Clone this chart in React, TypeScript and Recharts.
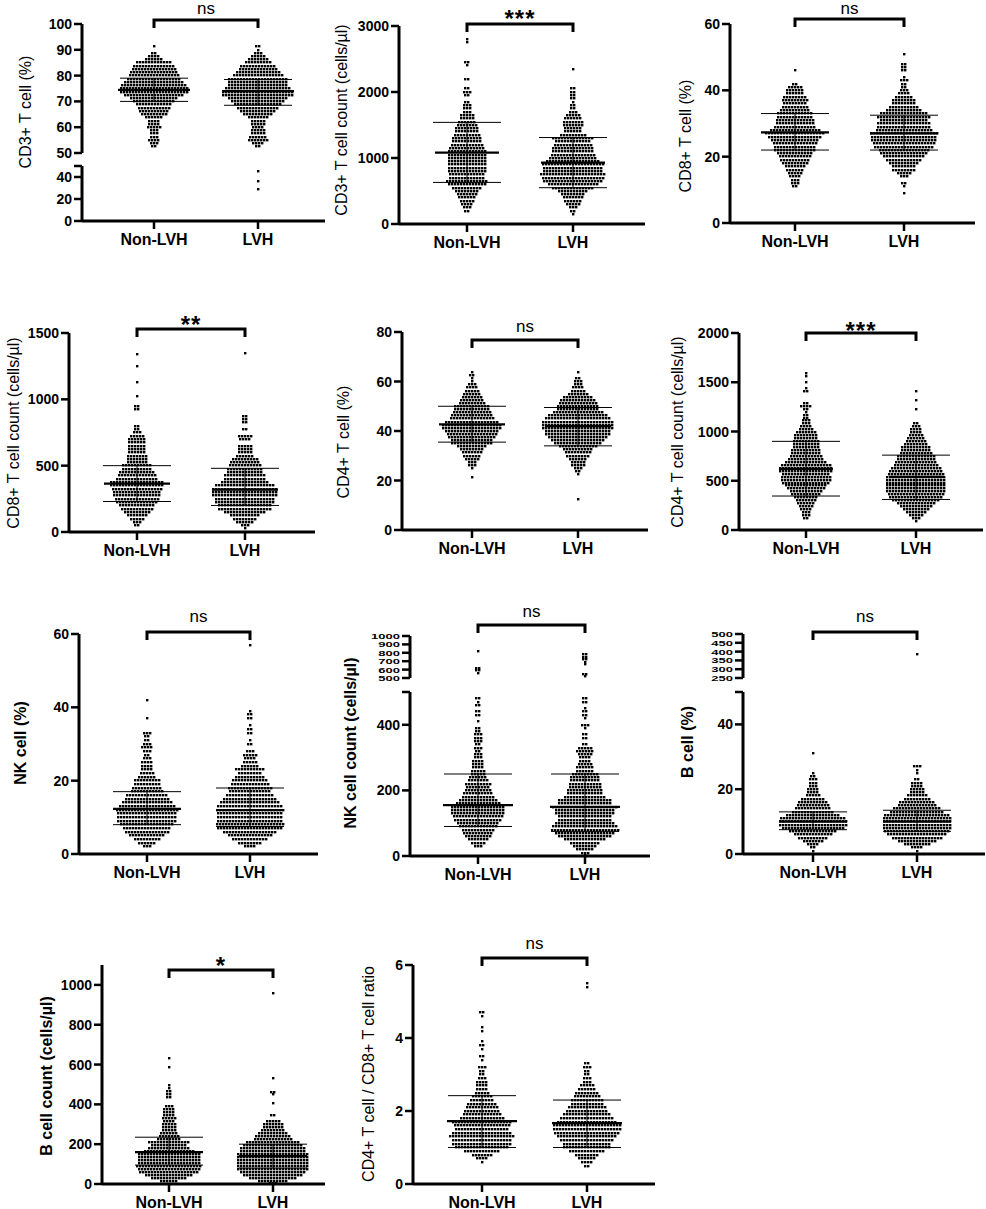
import React from 'react';
import { ScatterChart, Scatter, XAxis, YAxis, ReferenceLine, ErrorBar } from 'recharts';

// each row is [value, number of dots drawn side by side at that value]
type Row = [number, number];

const groups = ['Non-LVH', 'LVH'];

// CD3+ T cell (%)
const cd3PctNon: Row[] = [[91.25,1],[88.75,2],[87.5,4],[86.25,6],[85,12],[83.75,14],[82.5,15],[81.25,16],[80,17],[78.75,18],[77.5,20],[76.25,22],[75,23],[73.75,23],[72.5,20],[71.25,16],[70,14],[68.75,12],[67.5,11],[66.25,10],[65,9],[63.75,6],[62.5,4],[61.25,4],[60,5],[58.75,3],[57.5,3],[56.25,3],[55,4],[53.75,3],[52.5,2]];
const cd3PctLvh: Row[] = [[91.25,2],[90,1],[88.75,3],[87.5,5],[86.25,7],[85,9],[83.75,12],[82.5,13],[81.25,15],[80,17],[78.75,20],[77.5,20],[76.25,20],[75,22],[73.75,24],[72.5,24],[71.25,20],[70,18],[68.75,16],[67.5,14],[66.25,12],[65,10],[63.75,7],[62.5,5],[61.25,5],[60,4],[58.75,5],[57.5,5],[56.25,6],[55,7],[53.75,4],[52.5,2],[45,1],[36,1],[29,1]];
const cd3PctMedian = [74.5, 74];
const cd3PctQ1 = [70, 68.5];
const cd3PctQ3 = [79, 78.5];

// CD3+ T cell count
const cd3CntNon: Row[] = [[2800,1],[2750,1],[2450,2],[2400,1],[2200,2],[2050,2],[2000,3],[1950,2],[1850,2],[1800,3],[1750,3],[1700,3],[1650,5],[1600,5],[1550,6],[1500,7],[1450,8],[1400,8],[1350,9],[1300,10],[1250,10],[1200,11],[1150,12],[1100,13],[1050,13],[1000,13],[950,13],[900,13],[850,13],[800,13],[750,12],[700,12],[650,14],[600,13],[550,10],[500,8],[450,7],[400,6],[350,5],[300,4],[250,3],[200,2]];
const cd3CntLvh: Row[] = [[2350,1],[2050,2],[2000,2],[1950,2],[1900,2],[1850,1],[1800,2],[1750,2],[1700,3],[1650,5],[1600,6],[1550,7],[1500,7],[1450,6],[1400,6],[1350,9],[1300,14],[1250,12],[1200,13],[1150,14],[1100,14],[1050,15],[1000,16],[950,18],[900,21],[850,20],[800,20],[750,22],[700,21],[650,20],[600,17],[550,14],[500,10],[450,8],[400,7],[350,6],[300,5],[250,3],[200,2],[150,1]];
const cd3CntMedian = [1080, 930];
const cd3CntQ1 = [630, 550];
const cd3CntQ3 = [1540, 1310];

// CD8+ T cell (%)
const cd8PctNon: Row[] = [[46,1],[42,2],[41,5],[40,6],[39,6],[38,8],[37,9],[36,8],[35,9],[34,10],[33,12],[32,12],[31,13],[30,13],[29,14],[28,17],[27,20],[26,18],[25,16],[24,15],[23,14],[22,14],[21,12],[20,11],[19,10],[18,9],[17,7],[16,6],[15,5],[14,4],[13,3],[12,3],[11,2]];
const cd8PctLvh: Row[] = [[51,1],[48,2],[47,2],[46,2],[44,1],[43,3],[42,2],[41,2],[40,3],[39,4],[38,6],[37,8],[36,8],[35,10],[34,12],[33,16],[32,18],[31,16],[30,18],[29,18],[28,19],[27,23],[26,22],[25,22],[24,21],[23,20],[22,17],[21,16],[20,14],[19,12],[18,10],[17,8],[16,8],[15,5],[14,3],[12,2],[11,1],[9,1]];
const cd8PctMedian = [27.3, 27];
const cd8PctQ1 = [22, 22];
const cd8PctQ3 = [33, 32.5];

// CD8+ T cell count
const cd8CntNon: Row[] = [[1340,1],[1250,1],[1130,1],[1025,1],[950,2],[925,2],[800,2],[775,2],[750,3],[725,5],[700,6],[675,6],[650,6],[625,6],[600,6],[575,7],[550,7],[525,7],[500,10],[475,10],[450,12],[425,13],[400,14],[375,18],[350,18],[325,17],[300,16],[275,16],[250,15],[225,14],[200,12],[175,11],[150,9],[125,7],[100,5],[75,3],[50,2]];
const cd8CntLvh: Row[] = [[1350,1],[875,2],[850,2],[825,2],[775,2],[725,5],[700,4],[650,5],[625,5],[600,5],[575,6],[550,9],[525,10],[500,11],[475,12],[450,12],[425,14],[400,14],[375,16],[350,20],[325,22],[300,22],[275,22],[250,20],[225,20],[200,18],[175,18],[150,14],[125,10],[100,8],[75,6],[50,3],[25,1]];
const cd8CntMedian = [365, 320];
const cd8CntQ1 = [230, 200];
const cd8CntQ3 = [500, 480];

// CD4+ T cell (%)
const cd4PctNon: Row[] = [[63.75,1],[62.5,2],[61.25,1],[60,1],[58.75,3],[57.5,4],[56.25,5],[55,6],[53.75,7],[52.5,8],[51.25,9],[50,12],[48.75,12],[47.5,13],[46.25,14],[45,15],[43.75,18],[42.5,20],[41.25,20],[40,18],[38.75,17],[37.5,16],[36.25,14],[35,14],[33.75,10],[32.5,8],[31.25,7],[30,6],[28.75,5],[27.5,3],[26.25,3],[25,1],[21.25,1]];
const cd4PctLvh: Row[] = [[63.75,1],[61.25,2],[60,3],[58.75,3],[57.5,4],[56.25,5],[55,7],[53.75,10],[52.5,12],[51.25,13],[50,14],[48.75,14],[47.5,17],[46.25,20],[45,22],[43.75,24],[42.5,24],[41.25,24],[40,22],[38.75,22],[37.5,20],[36.25,18],[35,16],[33.75,13],[32.5,10],[31.25,9],[30,8],[28.75,6],[27.5,5],[26.25,5],[25,3],[23.75,2],[22.5,1],[12.5,1]];
const cd4PctMedian = [42.7, 42];
const cd4PctQ1 = [35.5, 34];
const cd4PctQ3 = [50, 49.5];

// CD4+ T cell count
const cd4CntNon: Row[] = [[1590,1],[1560,1],[1500,1],[1440,1],[1410,2],[1290,2],[1260,4],[1230,2],[1200,1],[1170,2],[1140,2],[1110,3],[1080,3],[1050,4],[1020,5],[990,7],[960,8],[930,8],[900,9],[870,9],[840,9],[810,10],[780,10],[750,11],[720,12],[690,14],[660,17],[630,18],[600,18],[570,16],[540,17],[510,17],[480,16],[450,14],[420,13],[390,11],[360,10],[330,8],[300,7],[270,6],[240,5],[210,4],[180,3],[150,3],[120,2]];
const cd4CntLvh: Row[] = [[1410,1],[1320,1],[1230,1],[1080,2],[1050,3],[1020,4],[990,4],[960,5],[930,6],[900,7],[870,8],[840,10],[810,10],[780,11],[750,13],[720,13],[690,14],[660,15],[630,17],[600,18],[570,19],[540,20],[510,20],[480,20],[450,20],[420,20],[390,20],[360,19],[330,18],[300,16],[270,13],[240,11],[210,9],[180,7],[150,5],[120,3],[90,1]];
const cd4CntMedian = [620, 540];
const cd4CntQ1 = [345, 310];
const cd4CntQ3 = [900, 760];

// NK cell (%)
const nkPctNon: Row[] = [[42,1],[37,1],[33,3],[32,2],[31,2],[30,3],[29,4],[28,3],[27,2],[26,3],[25,4],[24,4],[23,4],[22,5],[21,6],[20,9],[19,9],[18,10],[17,11],[16,14],[15,15],[14,17],[13,19],[12,21],[11,20],[10,20],[9,20],[8,18],[7,16],[6,15],[5,12],[4,9],[3,6],[2,3]];
const nkPctLvh: Row[] = [[57,1],[39,1],[38,2],[37,2],[35,1],[34,2],[33,2],[31,1],[30,2],[28,3],[27,5],[26,4],[25,5],[24,6],[23,10],[22,8],[21,10],[20,12],[19,13],[18,15],[17,14],[16,16],[15,18],[14,20],[13,22],[12,23],[11,22],[10,22],[9,22],[8,23],[7,22],[6,18],[5,15],[4,12],[3,8],[2,4]];
const nkPctMedian = [12.3, 12];
const nkPctQ1 = [8, 7.5];
const nkPctQ3 = [17, 18];

// NK cell count
const nkCntNon: Row[] = [[820,1],[620,2],[590,2],[560,1],[480,2],[470,1],[460,2],[440,2],[430,2],[410,1],[390,2],[380,2],[370,3],[360,3],[350,3],[340,2],[330,3],[320,2],[310,3],[300,3],[290,4],[280,4],[270,4],[260,5],[250,5],[240,6],[230,7],[220,9],[210,8],[200,9],[190,10],[180,11],[170,13],[160,15],[150,18],[140,18],[130,18],[120,17],[110,16],[100,14],[90,13],[80,11],[70,10],[60,9],[50,7],[40,5],[30,3]];
const nkCntLvh: Row[] = [[780,2],[750,2],[720,2],[690,1],[660,1],[550,2],[520,1],[480,2],[470,2],[450,1],[440,2],[430,2],[420,1],[400,3],[390,1],[370,2],[360,2],[340,2],[330,5],[320,6],[310,5],[300,4],[290,4],[280,5],[270,6],[260,6],[250,9],[240,10],[230,10],[220,11],[210,11],[200,12],[190,12],[180,14],[170,18],[160,18],[150,22],[140,20],[130,20],[120,18],[110,18],[100,20],[90,22],[80,23],[70,20],[60,18],[50,14],[40,10],[30,8],[20,6],[10,3],[2,1]];
const nkCntMedian = [155, 150];
const nkCntQ1 = [90, 75];
const nkCntQ3 = [250, 250];

// B cell (%)
const bPctNon: Row[] = [[31,1],[25,1],[24,2],[23,3],[22,3],[21,3],[20,4],[19,4],[18,5],[17,8],[16,10],[15,11],[14,12],[13,14],[12,18],[11,22],[10,23],[9,23],[8,21],[7,16],[6,13],[5,10],[4,7],[3,4],[2,2],[1,1]];
const bPctLvh: Row[] = [[385,1],[27,3],[26,1],[25,1],[23,2],[22,4],[21,4],[20,5],[19,5],[18,7],[17,9],[16,12],[15,13],[14,16],[13,18],[12,22],[11,23],[10,23],[9,23],[8,23],[7,22],[6,20],[5,17],[4,13],[3,9],[2,4],[1,1]];
const bPctMedian = [10, 10];
const bPctQ1 = [7.5, 7];
const bPctQ3 = [13, 13.5];

// B cell count
const bCntNon: Row[] = [[630,1],[585,1],[495,1],[480,1],[465,2],[450,2],[435,2],[390,3],[375,4],[360,4],[345,4],[330,5],[315,4],[300,5],[285,5],[270,5],[255,6],[240,7],[225,8],[210,14],[195,12],[180,14],[165,17],[150,21],[135,21],[120,21],[105,21],[90,22],[75,21],[60,20],[45,16],[30,12],[15,6]];
const bCntLvh: Row[] = [[960,1],[530,1],[460,2],[450,1],[405,1],[345,2],[315,5],[300,7],[285,7],[270,8],[255,10],[240,12],[225,13],[210,18],[195,20],[180,22],[165,22],[150,24],[135,24],[120,24],[105,24],[90,24],[75,24],[60,22],[45,20],[30,16],[15,10],[3,3]];
const bCntMedian = [160, 140];
const bCntQ1 = [95, 80];
const bCntQ3 = [235, 200];

// CD4+/CD8+ ratio
const ratioNon: Row[] = [[4.7,2],[4.6,1],[4.3,1],[4.2,1],[3.9,1],[3.8,2],[3.7,1],[3.5,2],[3.4,1],[3.2,3],[3.1,2],[3.0,2],[2.9,3],[2.8,4],[2.7,4],[2.6,4],[2.5,5],[2.4,7],[2.3,8],[2.2,10],[2.1,11],[2.0,12],[1.9,13],[1.8,15],[1.7,20],[1.6,19],[1.5,18],[1.4,20],[1.3,22],[1.2,20],[1.1,20],[1.0,18],[0.9,12],[0.8,7],[0.7,4],[0.6,1]];
const ratioLvh: Row[] = [[5.5,1],[5.4,1],[3.3,2],[3.2,3],[3.1,2],[3.0,2],[2.9,3],[2.8,3],[2.7,5],[2.6,6],[2.5,8],[2.4,9],[2.3,11],[2.2,11],[2.1,13],[2.0,14],[1.9,16],[1.8,18],[1.7,20],[1.6,23],[1.5,23],[1.4,22],[1.3,20],[1.2,18],[1.1,16],[1.0,16],[0.9,12],[0.8,8],[0.7,6],[0.6,4],[0.5,2]];
const ratioMedian = [1.72, 1.67];
const ratioQ1 = [1.0, 1.0];
const ratioQ3 = [2.42, 2.3];

const FONT = 'Arial, "Liberation Sans", Helvetica, sans-serif';
const DOT_PITCH = 3;
const DOT = 2.4;

interface Seg { lo: number; hi: number; yBottom: number; yTop: number; ticks: number[]; blankTop?: boolean; small?: boolean }

interface Panel {
  label: string; bold: boolean; sig: string;
  non: Row[]; lvh: Row[]; median: number[]; q1: number[]; q3: number[];
  left: number; top: number; axisX: number; xEnd: number; xAxisY: number; cats: number[];
  segs: Seg[]; bracketY: number; sigY: number; labelX: number; labelY: number; medW: number;
}

const panels: Panel[] = [
  { label: 'CD3+ T cell (%)', bold: false, sig: 'ns', non: cd3PctNon, lvh: cd3PctLvh, median: cd3PctMedian, q1: cd3PctQ1, q3: cd3PctQ3,
    left: 0, top: 0, axisX: 82, xEnd: 325, xAxisY: 221, cats: [154, 258],
    segs: [{ lo: 0, hi: 50, yBottom: 221, yTop: 166, ticks: [0, 20, 40], blankTop: true }, { lo: 50, hi: 100, yBottom: 153, yTop: 24, ticks: [50, 60, 70, 80, 90, 100] }],
    bracketY: 20, sigY: 10, labelX: 25, labelY: 112, medW: 72 },
  { label: 'CD3+ T cell count (cells/µl)', bold: false, sig: '***', non: cd3CntNon, lvh: cd3CntLvh, median: cd3CntMedian, q1: cd3CntQ1, q3: cd3CntQ3,
    left: 330, top: 0, axisX: 399, xEnd: 645, xAxisY: 224, cats: [467, 573],
    segs: [{ lo: 0, hi: 3000, yBottom: 224, yTop: 26, ticks: [0, 1000, 2000, 3000] }],
    bracketY: 24, sigY: 13, labelX: 341, labelY: 120, medW: 64 },
  { label: 'CD8+ T cell (%)', bold: false, sig: 'ns', non: cd8PctNon, lvh: cd8PctLvh, median: cd8PctMedian, q1: cd8PctQ1, q3: cd8PctQ3,
    left: 660, top: 0, axisX: 730, xEnd: 975, xAxisY: 223, cats: [795, 904],
    segs: [{ lo: 0, hi: 60, yBottom: 223, yTop: 24, ticks: [0, 20, 40, 60] }],
    bracketY: 19, sigY: 10, labelX: 685, labelY: 136, medW: 68 },
  { label: 'CD8+ T cell count (cells/µl)', bold: false, sig: '**', non: cd8CntNon, lvh: cd8CntLvh, median: cd8CntMedian, q1: cd8CntQ1, q3: cd8CntQ3,
    left: 0, top: 300, axisX: 69, xEnd: 315, xAxisY: 532, cats: [137, 245],
    segs: [{ lo: 0, hi: 1500, yBottom: 532, yTop: 333, ticks: [0, 500, 1000, 1500] }],
    bracketY: 329, sigY: 319, labelX: 13, labelY: 433, medW: 66 },
  { label: 'CD4+ T cell (%)', bold: false, sig: 'ns', non: cd4PctNon, lvh: cd4PctLvh, median: cd4PctMedian, q1: cd4PctQ1, q3: cd4PctQ3,
    left: 330, top: 300, axisX: 402, xEnd: 648, xAxisY: 530, cats: [472, 578],
    segs: [{ lo: 0, hi: 80, yBottom: 530, yTop: 332, ticks: [0, 20, 40, 60, 80] }],
    bracketY: 340, sigY: 328, labelX: 343, labelY: 442, medW: 66 },
  { label: 'CD4+ T cell count (cells/µl)', bold: false, sig: '***', non: cd4CntNon, lvh: cd4CntLvh, median: cd4CntMedian, q1: cd4CntQ1, q3: cd4CntQ3,
    left: 660, top: 300, axisX: 739, xEnd: 983, xAxisY: 530, cats: [806, 916],
    segs: [{ lo: 0, hi: 2000, yBottom: 530, yTop: 333, ticks: [0, 500, 1000, 1500, 2000] }],
    bracketY: 333, sigY: 325, labelX: 677, labelY: 432, medW: 54 },
  { label: 'NK cell (%)', bold: true, sig: 'ns', non: nkPctNon, lvh: nkPctLvh, median: nkPctMedian, q1: nkPctQ1, q3: nkPctQ3,
    left: 0, top: 595, axisX: 79, xEnd: 318, xAxisY: 854, cats: [147, 250],
    segs: [{ lo: 0, hi: 60, yBottom: 854, yTop: 634, ticks: [0, 20, 40, 60] }],
    bracketY: 632, sigY: 618, labelX: 20, labelY: 743, medW: 68 },
  { label: 'NK cell count (cells/µl)', bold: true, sig: 'ns', non: nkCntNon, lvh: nkCntLvh, median: nkCntMedian, q1: nkCntQ1, q3: nkCntQ3,
    left: 330, top: 595, axisX: 410, xEnd: 650, xAxisY: 856, cats: [478, 585],
    segs: [{ lo: 0, hi: 500, yBottom: 856, yTop: 692, ticks: [0, 200, 400], blankTop: true }, { lo: 500, hi: 1000, yBottom: 678, yTop: 636, ticks: [500, 600, 700, 800, 900, 1000], small: true }],
    bracketY: 625, sigY: 613, labelX: 350, labelY: 743, medW: 70 },
  { label: 'B cell (%)', bold: true, sig: 'ns', non: bPctNon, lvh: bPctLvh, median: bPctMedian, q1: bPctQ1, q3: bPctQ3,
    left: 660, top: 595, axisX: 743, xEnd: 985, xAxisY: 854, cats: [813, 917],
    segs: [{ lo: 0, hi: 50, yBottom: 854, yTop: 692, ticks: [0, 20, 40], blankTop: true }, { lo: 250, hi: 500, yBottom: 678, yTop: 634, ticks: [250, 300, 350, 400, 450, 500], small: true }],
    bracketY: 632, sigY: 618, labelX: 687, labelY: 742, medW: 68 },
  { label: 'B cell count (cells/µl)', bold: true, sig: '*', non: bCntNon, lvh: bCntLvh, median: bCntMedian, q1: bCntQ1, q3: bCntQ3,
    left: 0, top: 930, axisX: 102, xEnd: 325, xAxisY: 1184, cats: [169, 273],
    segs: [{ lo: 0, hi: 1100, yBottom: 1184, yTop: 965, ticks: [0, 200, 400, 600, 800, 1000] }],
    bracketY: 970, sigY: 960, labelX: 46, labelY: 1076, medW: 68 },
  { label: 'CD4+ T cell / CD8+ T cell ratio', bold: false, sig: 'ns', non: ratioNon, lvh: ratioLvh, median: ratioMedian, q1: ratioQ1, q3: ratioQ3,
    left: 330, top: 930, axisX: 413, xEnd: 655, xAxisY: 1184, cats: [482, 587],
    segs: [{ lo: 0, hi: 6, yBottom: 1184, yTop: 965, ticks: [0, 2, 4, 6] }],
    bracketY: 958, sigY: 945, labelX: 368, labelY: 1074, medW: 70 },
];

const AxisTitle = ({ px, py, text, bold }: any) => (
  <text x={px} y={py} transform={`rotate(-90, ${px}, ${py})`} textAnchor="middle" dominantBaseline="central"
    fontSize={16} fontWeight={bold ? 700 : 400} fontFamily={FONT} fill="#000">{text}</text>
);

function DotPanel({ p }: { p: Panel }) {
  // broken axes: map a value to pixels above the x axis, segment by segment
  const segY = (s: Seg, v: number) => p.xAxisY - (s.yBottom + ((v - s.lo) / (s.hi - s.lo)) * (s.yTop - s.yBottom));
  const toY = (v: number) => segY(p.segs.find((s) => v <= s.hi) ?? p.segs[p.segs.length - 1], v);

  const spacing = p.cats[1] - p.cats[0];
  const xMin = -(p.cats[0] - p.axisX) / spacing;
  const xMax = 1 + (p.xEnd - p.cats[1]) / spacing;
  const dx = DOT_PITCH / spacing;
  const H = p.xAxisY - p.top;
  const width = p.xEnd - p.left;

  const dots = [p.non, p.lvh].flatMap((rows, g) =>
    rows.flatMap(([v, n]) => Array.from({ length: n }, (_, k) => ({ x: g + (k - (n - 1) / 2) * dx, y: toY(v) }))));

  const summary = [0, 1].map((g) => {
    const m = toY(p.median[g]);
    return { x: g, y: m, err: [m - toY(p.q1[g]), toY(p.q3[g]) - m] };
  });

  const ticks = p.segs.flatMap((s) => [
    ...s.ticks.map((t) => ({ v: segY(s, t), label: String(t), small: !!s.small })),
    ...(s.blankTop ? [{ v: segY(s, s.hi), label: '', small: false }] : []),
  ]).sort((a, b) => a.v - b.v);

  const bTop = p.xAxisY - p.bracketY;
  const bLow = p.xAxisY - (p.bracketY + 8);
  const bracket = [{ x: 0, y: bLow }, { x: 0, y: bTop }, { x: 1, y: bTop }, { x: 1, y: bLow }];
  const isStar = p.sig !== 'ns';
  const sigBase = p.sigY + (isStar ? 14 : 4);
  const sigPoint = [{ x: 0.5, y: p.xAxisY - sigBase }];

  return (
    <div style={{ position: 'absolute', left: p.left, top: p.top }}>
      <ScatterChart width={width} height={H + 30} margin={{ top: 0, right: 0, bottom: 0, left: 0 }}>
        <XAxis type="number" dataKey="x" domain={[xMin, xMax]} allowDataOverflow ticks={[0, 1]} interval={0} height={30}
          axisLine={{ stroke: '#000', strokeWidth: 3 }} tickLine={{ stroke: '#000', strokeWidth: 2.5 }} tickSize={8} tickMargin={4}
          tick={(t: any) => (
            <text x={t.x} y={t.y} dy={11.5} textAnchor="middle" fontSize={16} fontWeight={700} fontFamily={FONT} fill="#000">
              {groups[Math.round(t.payload.value)]}
            </text>
          )} />
        <YAxis type="number" dataKey="y" domain={[0, H]} allowDataOverflow ticks={ticks.map((t) => t.v)} interval={0}
          width={p.axisX - p.left} axisLine={false} tickLine={{ stroke: '#000', strokeWidth: 2.5 }} tickSize={8} tickMargin={2}
          tick={(t: any) => {
            const tk = ticks.find((k) => Math.abs(k.v - t.payload.value) < 0.01);
            if (tk?.small) {
              // squeezed labels of the short upper part of a broken axis
              return (
                <text transform={`translate(${t.x}, ${t.y + 3}) scale(1, 0.58)`} textAnchor="end" fontSize={13} fontWeight={700} fontFamily={FONT} fill="#000">
                  {tk.label}
                </text>
              );
            }
            return (
              <text x={t.x} y={t.y} dy={5} textAnchor="end" fontSize={14} fontWeight={700} fontFamily={FONT} fill="#000">
                {tk?.label}
              </text>
            );
          }}
          label={<AxisTitle px={p.labelX - p.left} py={p.labelY - p.top} text={p.label} bold={p.bold} />} />
        {p.segs.map((s, i) => (
          <ReferenceLine key={i} segment={[{ x: xMin, y: segY(s, s.lo) }, { x: xMin, y: segY(s, s.hi) }]}
            stroke="#000" strokeWidth={3} ifOverflow="visible" />
        ))}
        {/* interquartile range sits behind the dots, median line in front */}
        <Scatter data={summary} fill="#000" isAnimationActive={false} shape={() => <g />}>
          <ErrorBar dataKey="err" direction="y" width={34} stroke="#000" strokeWidth={1} />
        </Scatter>
        <Scatter data={dots} fill="#000" isAnimationActive={false}
          shape={(d: any) => <rect x={Math.round(d.cx - DOT / 2)} y={Math.round(d.cy - DOT / 2)} width={DOT} height={DOT} fill="#000" />} />
        <Scatter data={summary} fill="#000" isAnimationActive={false}
          shape={(d: any) => <line x1={d.cx - p.medW / 2} x2={d.cx + p.medW / 2} y1={d.cy} y2={d.cy} stroke="#000" strokeWidth={2.2} />} />
        <Scatter data={bracket} fill="#000" isAnimationActive={false} line={{ stroke: '#000', strokeWidth: 3 }} shape={() => <g />} />
        <Scatter data={sigPoint} fill="#000" isAnimationActive={false}
          shape={(d: any) => (
            <text x={d.cx} y={d.cy} textAnchor="middle" fontFamily={FONT} fill="#000"
              fontSize={isStar ? 24 : 17} fontWeight={isStar ? 700 : 400} letterSpacing={isStar ? 1 : 0}>
              {p.sig}
            </text>
          )} />
      </ScatterChart>
    </div>
  );
}

export default function App() {
  return (
    <div style={{ position: 'absolute', left: 0, top: 0, width: 986, height: 1209, background: '#fff' }}>
      {panels.map((p, i) => <DotPanel key={i} p={p} />)}
    </div>
  );
}
